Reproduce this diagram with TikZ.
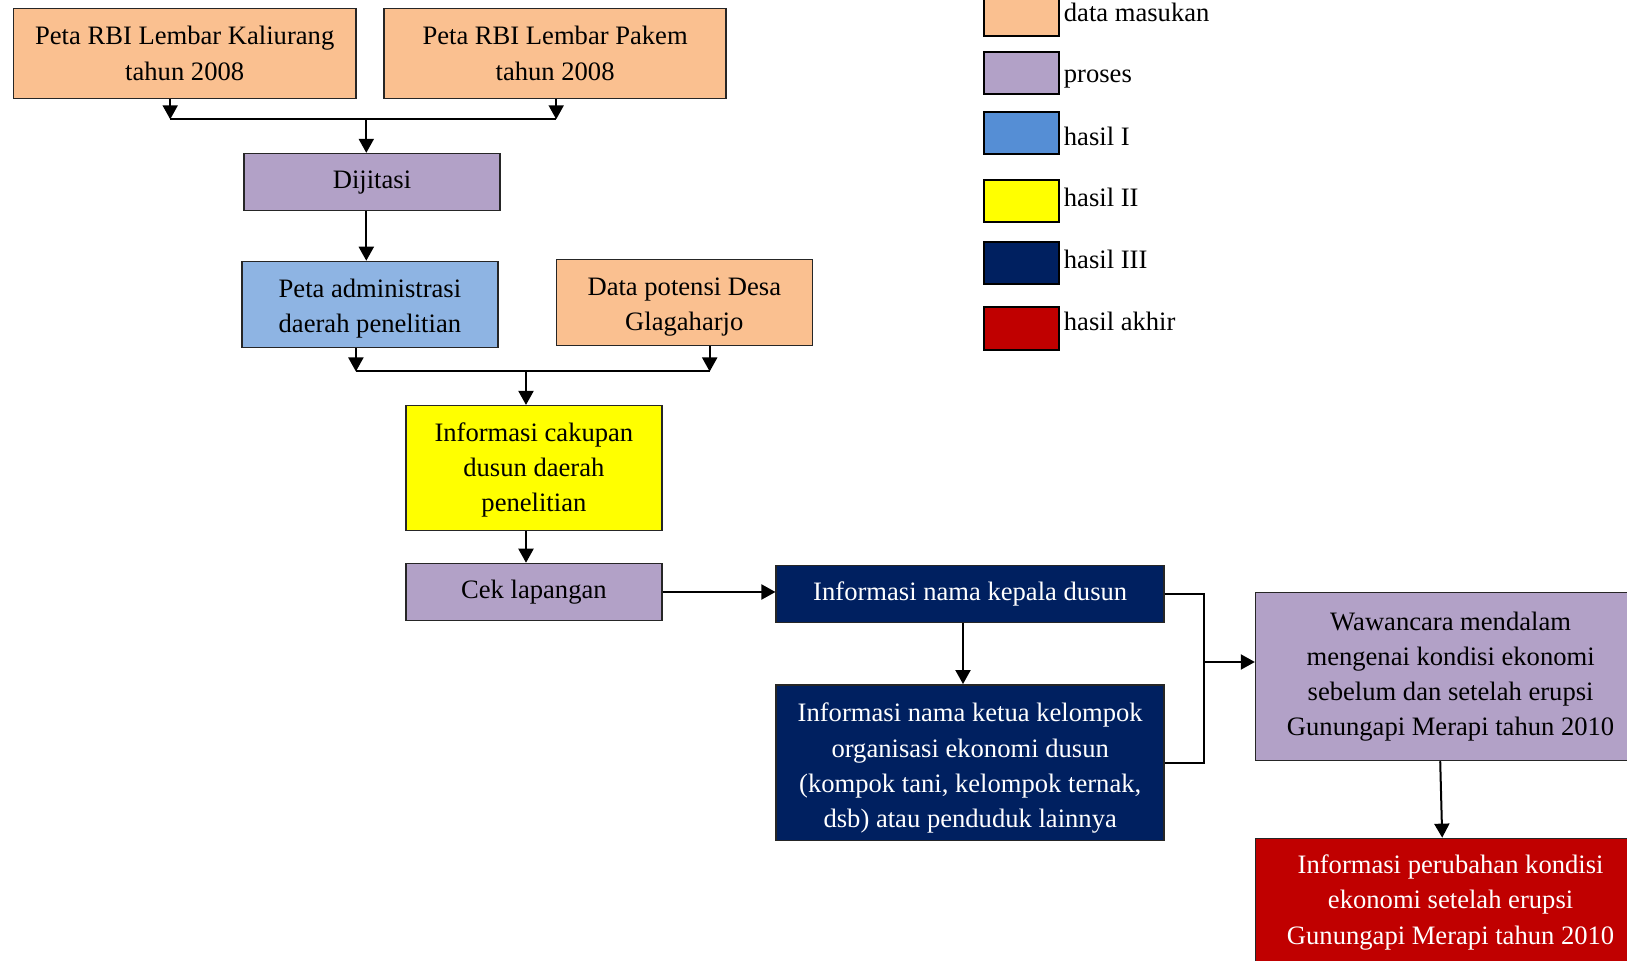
\documentclass[tikz,border=0pt]{standalone}
\usepackage{fontspec}
\setmainfont{Liberation Serif}
\usepackage{tikz}
\usetikzlibrary{arrows.meta,positioning,calc}
\usepackage{xcolor}
\definecolor{inpeach}{HTML}{FAC090}
\definecolor{proclav}{HTML}{B2A1C7}
\definecolor{resblue}{HTML}{558ED5}
\definecolor{resbluelt}{HTML}{8EB4E3}
\definecolor{resyellow}{HTML}{FFFF00}
\definecolor{resnavy}{HTML}{002060}
\definecolor{resred}{HTML}{C00000}
\newcommand{\lowstrut}[1]{\rule{0pt}{#1}}

\begin{document}
\begin{tikzpicture}[x=0.5pt,y=-0.5pt,
    box/.style={draw=black!85, line width=0.75pt, align=center, inner sep=0pt,
      font=\fontsize{13.3}{17.6}\selectfont},
    keybox/.style={draw=black, line width=1pt, minimum width=37.5pt, minimum height=21.3pt},
    keytext/.style={anchor=base west, inner sep=0pt, font=\fontsize{13.3}{17.6}\selectfont},
    arr/.style={line width=1pt, -{Triangle[length=7pt,width=7.5pt]}},
    wire/.style={line width=1pt}]
  \useasboundingbox (0,0) rectangle (1627,961);
  % input maps
  \node[box, fill=inpeach, minimum width=171.2pt, minimum height=45.2pt] (kal) at (184.7,53.5)
      {Peta RBI Lembar Kaliurang\\tahun 2008};
  \node[box, fill=inpeach, minimum width=171pt, minimum height=45.2pt] (pak) at (555.1,53.5)
      {Peta RBI Lembar Pakem\\tahun 2008};
  \node[box, fill=proclav, minimum width=128pt, minimum height=28.5pt] (dij) at (372,182.1) {Dijitasi};
  \node[box, fill=resbluelt, minimum width=128pt, minimum height=43pt] (adm) at (369.9,304.5)
      {\lowstrut{13.6pt}Peta administrasi\\daerah penelitian};
  \node[box, fill=inpeach, minimum width=128pt, minimum height=43pt] (pot) at (684.3,302.5)
      {\lowstrut{13.6pt}Data potensi Desa\\Glagaharjo};
  \node[box, fill=resyellow, minimum width=128pt, minimum height=62.3pt] (cak) at (533.9,468)
      {\lowstrut{11.6pt}Informasi cakupan\\dusun daerah\\penelitian};
  \node[box, fill=proclav, minimum width=128pt, minimum height=28.5pt] (cek) at (533.9,592) {Cek lapangan};
  % field results
  \node[box, fill=resnavy, text=white, minimum width=194pt, minimum height=28.5pt] (kep) at (970.2,594)
      {Informasi nama kepala dusun};
  \node[box, fill=resnavy, text=white, minimum width=194pt, minimum height=77.8pt] (ket) at (970.2,762.6)
      {\lowstrut{15pt}Informasi nama ketua kelompok\\organisasi ekonomi dusun\\(kompok tani, kelompok ternak,\\dsb) atau penduduk lainnya};
  \node[box, fill=proclav, minimum width=195pt, minimum height=84pt] (waw) at (1450.6,676.5)
      {Wawancara mendalam\\mengenai kondisi ekonomi\\sebelum dan setelah erupsi\\Gunungapi Merapi tahun 2010};
  \node[box, fill=resred, text=white, minimum width=195pt, minimum height=64pt] (fin) at (1450.6,902.4)
      {Informasi perubahan kondisi\\ekonomi setelah erupsi\\Gunungapi Merapi tahun 2010};

  % joins
  \coordinate (bus1l) at (170.2,119.3);
  \coordinate (bus1r) at (556.2,119.3);
  \coordinate (bus1m) at (366.3,119.3);
  \coordinate (bus2l) at (355.9,371.5);
  \coordinate (bus2r) at (709.7,371.5);
  \coordinate (bus2m) at (526,371.5);
  \coordinate (join) at (1203.6,662);

  \draw[arr] (kal.south -| bus1l) -- (bus1l);
  \draw[arr] (pak.south -| bus1r) -- (bus1r);
  \draw[wire] (bus1l) -- (bus1r);
  \draw[arr] (bus1m) -- (bus1m |- dij.north);
  \draw[arr] (bus1m |- dij.south) -- (bus1m |- adm.north);
  \draw[arr] (adm.south -| bus2l) -- (bus2l);
  \draw[arr] (pot.south -| bus2r) -- (bus2r);
  \draw[wire] (bus2l) -- (bus2r);
  \draw[arr] (bus2m) -- (bus2m |- cak.north);
  \draw[arr] (bus2m |- cak.south) -- (bus2m |- cek.north);
  \draw[arr] (cek.east) -- (cek.east -| kep.west);
  \draw[arr] ([xshift=-3.6pt]kep.south) -- ([xshift=-3.6pt]ket.north);
  \draw[wire] (kep.east) -| (join) |- (ket.east);
  \draw[arr] (join) -- (join -| waw.west);
  \draw[arr] ([xshift=-5.2pt]waw.south) -- ([xshift=-4.2pt]fin.north);

  % legend
  \node[keybox, fill=inpeach] (k1) at (1021.5,14.7) {};
  \node[keybox, fill=proclav] (k2) at (1021.5,73) {};
  \node[keybox, fill=resblue] (k3) at (1021.5,133) {};
  \node[keybox, fill=resyellow] (k4) at (1021.5,201.1) {};
  \node[keybox, fill=resnavy] (k5) at (1021.5,263) {};
  \node[keybox, fill=resred] (k6) at (1021.5,328.6) {};
  \node[keytext] (t1) at (1063.5,21.7) {data masukan};
  \node[keytext] (t2) at (1063.5,82.7) {proses};
  \node[keytext] (t3) at (1063.5,145.7) {hasil I};
  \node[keytext] (t4) at (1063.5,207) {hasil II};
  \node[keytext] (t5) at (1063.5,269) {hasil III};
  \node[keytext] (t6) at (1063.5,331) {hasil akhir};
\end{tikzpicture}
\end{document}
